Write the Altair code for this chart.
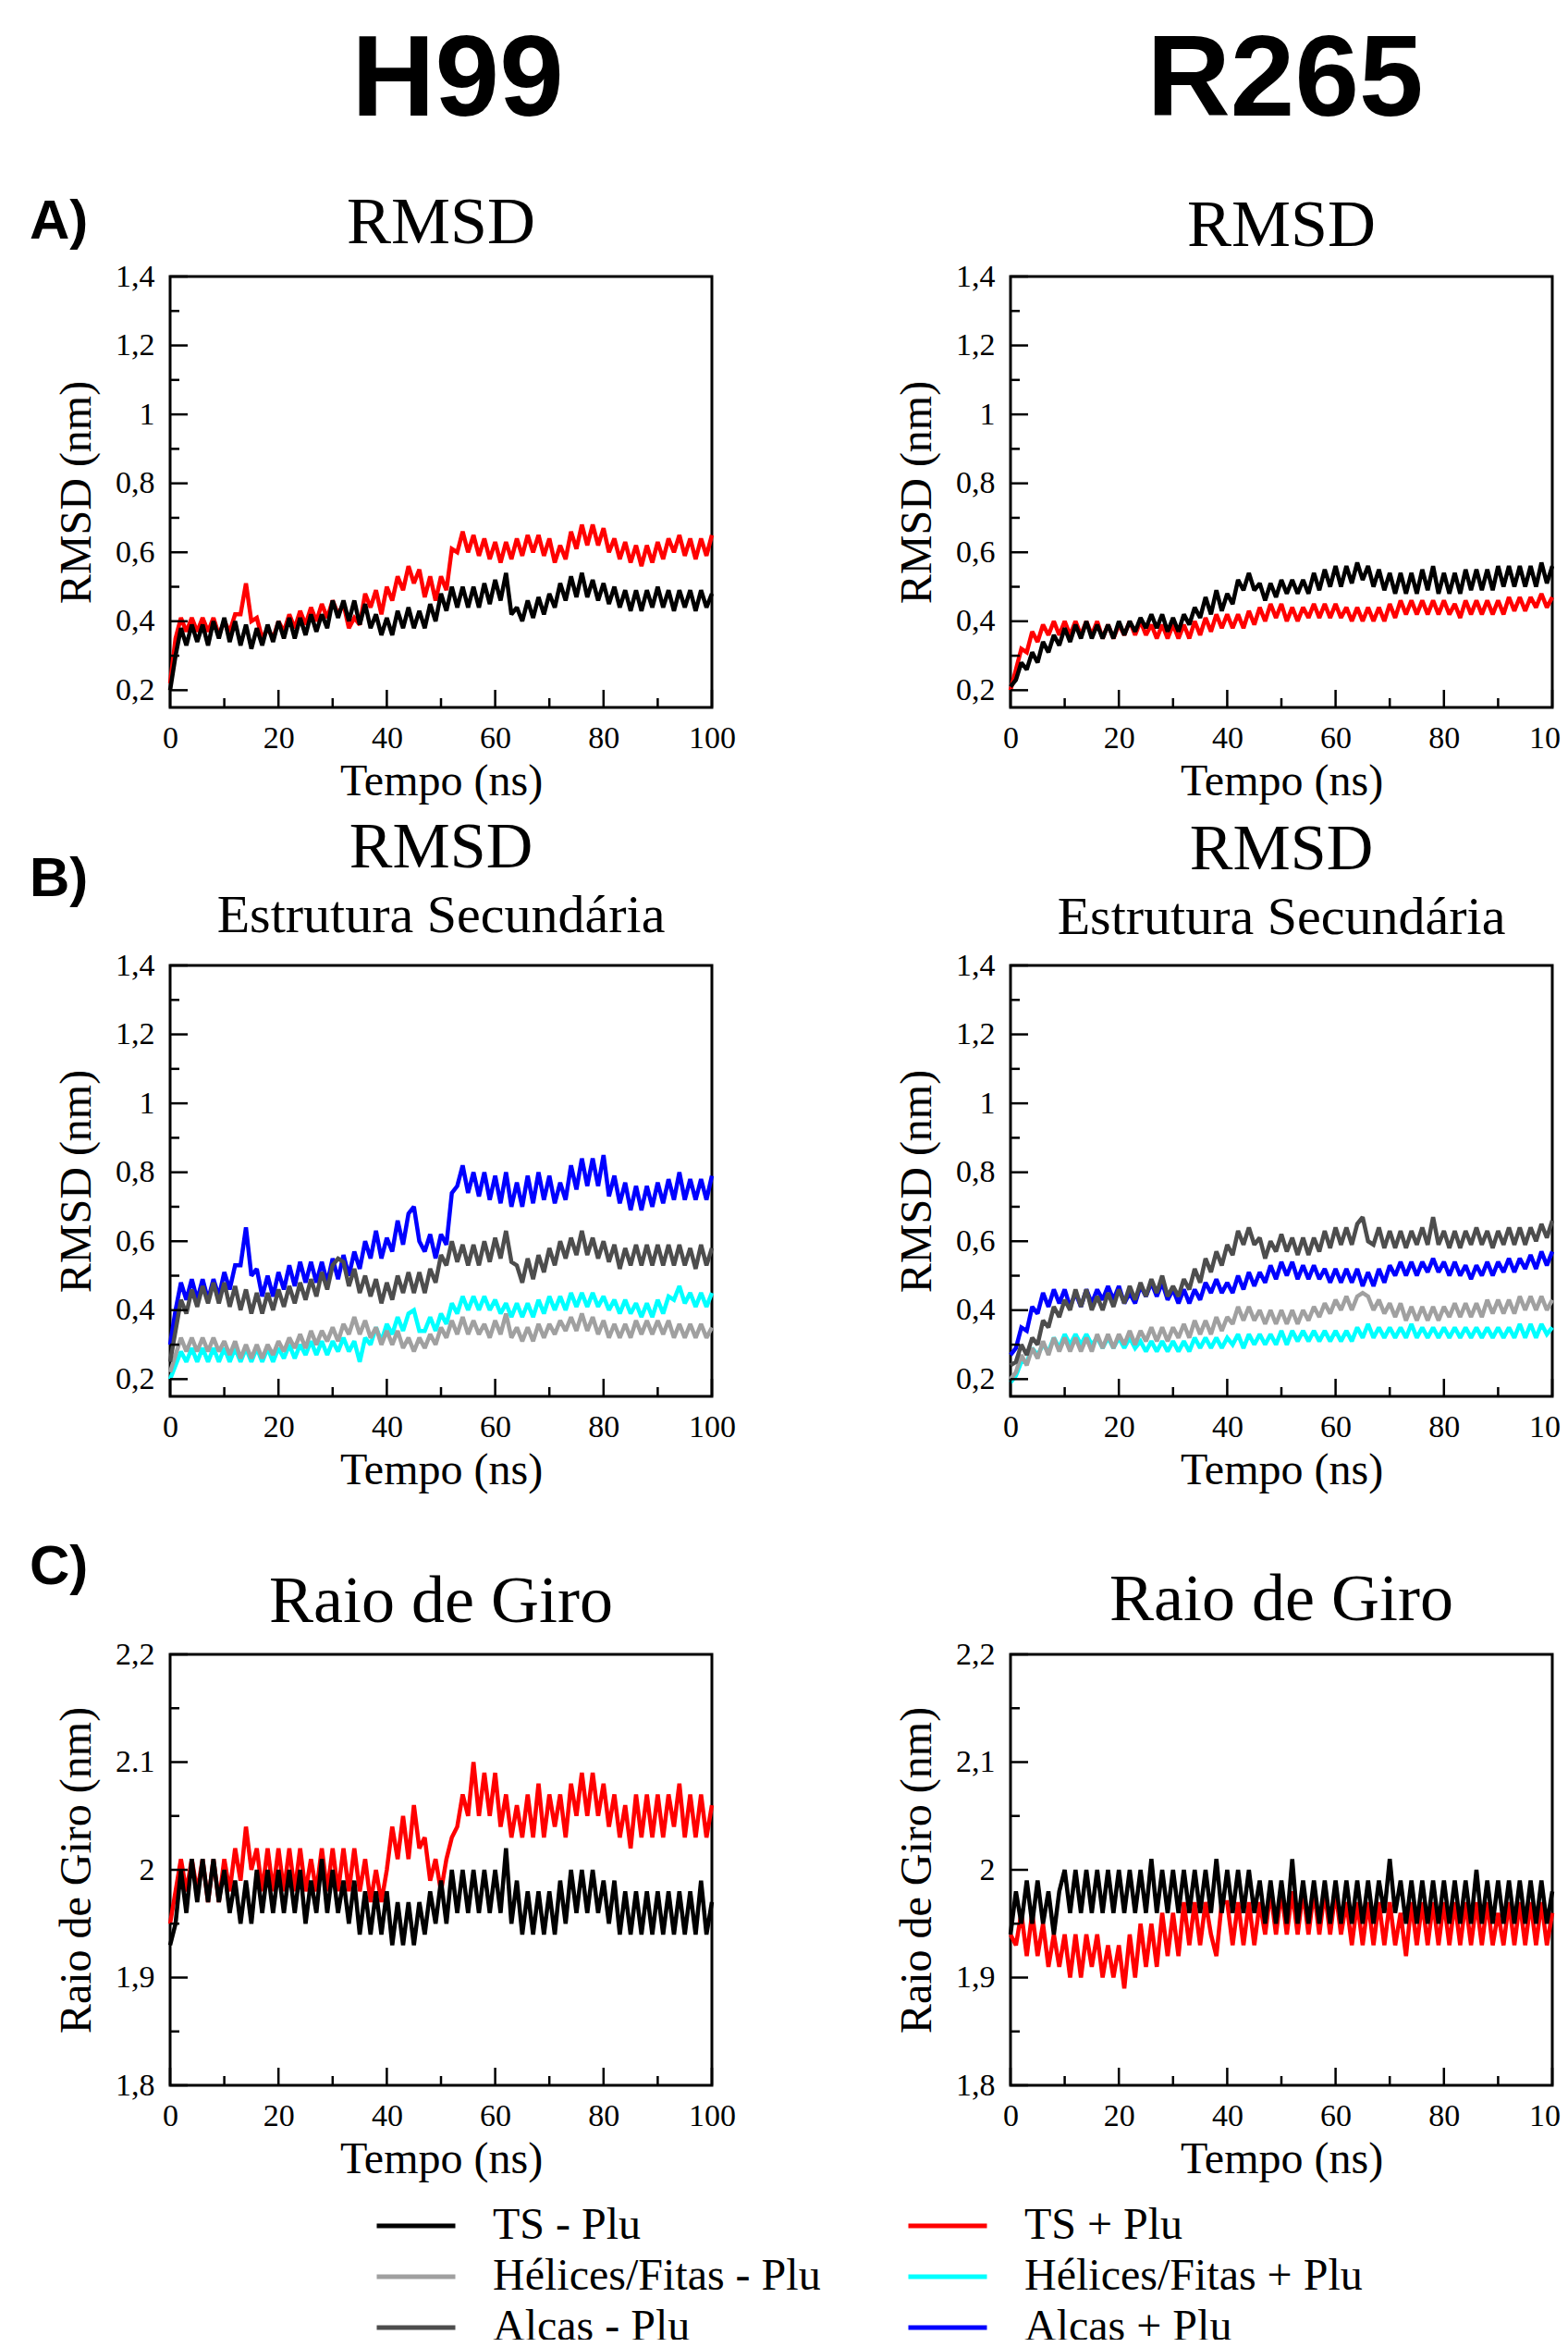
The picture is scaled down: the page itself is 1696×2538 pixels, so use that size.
import altair as alt
import pandas as pd

# ---------------- data (1 ns steps, alternating upper/lower edge of the noisy trace) ----------------
T = list(range(101))

SERIES_NAMES = ["TS - Plu", "TS + Plu", "Hélices/Fitas - Plu", "Hélices/Fitas + Plu", "Alças - Plu", "Alças + Plu"]
SERIES_COLORS = ["#000000", "#ff0000", "#a0a0a0", "#00ffff", "#4d4d4d", "#0000ff"]

X_MAJOR = [0, 20, 40, 60, 80, 100]
X_MINOR = [10, 30, 50, 70, 90]
RMSD_MAJOR = [0.2, 0.4, 0.6, 0.8, 1.0, 1.2, 1.4]
RMSD_MINOR = [0.3, 0.5, 0.7, 0.9, 1.1, 1.3]
RMSD_LABELS = ["0,2", "0,4", "0,6", "0,8", "1", "1,2", "1,4"]
RG_MAJOR = [1.8, 1.9, 2.0, 2.1, 2.2]
RG_MINOR = [1.85, 1.95, 2.05, 2.15]
RG_LABELS_H99 = ["1,8", "1,9", "2", "2.1", "2,2"]
RG_LABELS_R265 = ["1,8", "1,9", "2", "2,1", "2,2"]

# H99 RMSD
h99_rmsd_ts_minus = [0.20,0.30,0.38,0.33,0.39,0.34,0.39,0.33,0.40,0.35,
 0.41,0.34,0.40,0.33,0.39,0.32,0.38,0.33,0.39,0.34,
 0.40,0.35,0.41,0.35,0.41,0.36,0.42,0.37,0.42,0.38,
 0.46,0.41,0.46,0.40,0.46,0.39,0.45,0.38,0.42,0.36,
 0.41,0.36,0.43,0.38,0.44,0.38,0.43,0.38,0.45,0.40,
 0.48,0.43,0.50,0.44,0.50,0.44,0.50,0.44,0.51,0.45,
 0.52,0.46,0.54,0.42,0.44,0.40,0.46,0.41,0.47,0.42,
 0.48,0.44,0.51,0.46,0.53,0.47,0.54,0.47,0.52,0.46,
 0.51,0.45,0.50,0.44,0.49,0.43,0.49,0.43,0.49,0.44,
 0.50,0.44,0.49,0.43,0.49,0.44,0.49,0.43,0.49,0.44,
 0.48]
h99_rmsd_ts_plus = [0.22,0.35,0.41,0.37,0.41,0.37,0.41,0.37,0.41,0.36,
 0.40,0.37,0.42,0.42,0.51,0.40,0.41,0.35,0.38,0.35,
 0.40,0.37,0.42,0.38,0.43,0.39,0.44,0.40,0.45,0.41,
 0.46,0.42,0.45,0.38,0.41,0.39,0.48,0.44,0.49,0.42,
 0.50,0.46,0.53,0.49,0.56,0.51,0.55,0.47,0.53,0.46,
 0.53,0.49,0.61,0.60,0.66,0.60,0.65,0.59,0.64,0.58,
 0.63,0.57,0.63,0.58,0.64,0.59,0.65,0.60,0.65,0.59,
 0.64,0.57,0.62,0.58,0.66,0.61,0.68,0.62,0.68,0.62,
 0.67,0.60,0.64,0.58,0.63,0.57,0.62,0.56,0.62,0.57,
 0.63,0.58,0.64,0.60,0.65,0.59,0.64,0.58,0.64,0.59,
 0.65]

# R265 RMSD
r265_rmsd_ts_minus = [0.21,0.23,0.28,0.26,0.31,0.28,0.34,0.31,0.36,0.33,
 0.38,0.34,0.39,0.35,0.40,0.35,0.39,0.35,0.39,0.35,
 0.40,0.36,0.40,0.37,0.41,0.38,0.42,0.38,0.42,0.37,
 0.41,0.37,0.42,0.39,0.44,0.41,0.47,0.42,0.49,0.43,
 0.48,0.45,0.52,0.49,0.54,0.49,0.51,0.46,0.51,0.47,
 0.52,0.48,0.52,0.48,0.52,0.48,0.54,0.49,0.55,0.50,
 0.56,0.50,0.56,0.51,0.57,0.52,0.56,0.50,0.55,0.49,
 0.54,0.48,0.54,0.48,0.54,0.48,0.55,0.49,0.56,0.48,
 0.54,0.48,0.54,0.48,0.55,0.49,0.55,0.49,0.55,0.49,
 0.56,0.50,0.56,0.50,0.56,0.50,0.56,0.50,0.57,0.51,
 0.56]
r265_rmsd_ts_plus = [0.20,0.26,0.32,0.31,0.37,0.34,0.39,0.36,0.40,0.36,
 0.40,0.36,0.40,0.36,0.40,0.36,0.40,0.35,0.39,0.35,
 0.39,0.36,0.40,0.36,0.40,0.36,0.39,0.35,0.39,0.35,
 0.39,0.35,0.39,0.35,0.40,0.36,0.41,0.37,0.42,0.38,
 0.42,0.38,0.42,0.38,0.43,0.39,0.44,0.40,0.45,0.41,
 0.45,0.40,0.44,0.40,0.44,0.41,0.45,0.41,0.45,0.41,
 0.45,0.41,0.44,0.40,0.44,0.40,0.44,0.40,0.44,0.40,
 0.45,0.41,0.46,0.42,0.46,0.42,0.46,0.42,0.46,0.42,
 0.46,0.42,0.45,0.41,0.46,0.42,0.46,0.42,0.46,0.42,
 0.46,0.42,0.47,0.43,0.47,0.43,0.47,0.44,0.48,0.44,
 0.47]

# H99 RMSD secondary structure
h99_loops_plus = [0.30,0.40,0.48,0.43,0.49,0.43,0.49,0.43,0.49,0.44,
 0.51,0.46,0.53,0.53,0.64,0.50,0.52,0.44,0.50,0.44,
 0.51,0.46,0.53,0.47,0.54,0.48,0.54,0.48,0.54,0.48,
 0.55,0.49,0.56,0.50,0.57,0.52,0.60,0.55,0.63,0.55,
 0.61,0.57,0.66,0.59,0.68,0.70,0.60,0.57,0.62,0.55,
 0.62,0.59,0.74,0.76,0.82,0.74,0.80,0.73,0.80,0.72,
 0.79,0.71,0.80,0.70,0.77,0.70,0.79,0.71,0.80,0.72,
 0.79,0.71,0.77,0.72,0.82,0.75,0.84,0.76,0.84,0.76,
 0.85,0.73,0.79,0.71,0.77,0.69,0.76,0.69,0.76,0.70,
 0.77,0.71,0.78,0.72,0.80,0.72,0.78,0.72,0.78,0.72,
 0.79]
h99_loops_minus = [0.25,0.34,0.43,0.39,0.46,0.41,0.47,0.42,0.48,0.42,
 0.48,0.41,0.47,0.40,0.46,0.39,0.45,0.39,0.45,0.40,
 0.46,0.41,0.47,0.42,0.48,0.43,0.49,0.44,0.51,0.46,
 0.53,0.55,0.54,0.47,0.52,0.45,0.50,0.44,0.49,0.42,
 0.48,0.43,0.50,0.45,0.51,0.45,0.51,0.45,0.52,0.48,
 0.56,0.53,0.60,0.54,0.59,0.53,0.59,0.53,0.60,0.54,
 0.61,0.55,0.63,0.54,0.53,0.48,0.55,0.49,0.56,0.51,
 0.58,0.53,0.60,0.55,0.61,0.56,0.63,0.56,0.61,0.55,
 0.60,0.54,0.59,0.52,0.58,0.53,0.59,0.53,0.59,0.53,
 0.59,0.53,0.59,0.53,0.59,0.53,0.58,0.52,0.59,0.53,
 0.58]
h99_helix_plus = [0.20,0.24,0.28,0.25,0.29,0.25,0.29,0.25,0.29,0.25,
 0.29,0.25,0.29,0.25,0.29,0.25,0.29,0.25,0.29,0.25,
 0.29,0.26,0.30,0.26,0.30,0.27,0.31,0.27,0.31,0.27,
 0.31,0.28,0.32,0.28,0.31,0.25,0.32,0.30,0.35,0.31,
 0.36,0.33,0.38,0.34,0.39,0.40,0.34,0.34,0.38,0.34,
 0.39,0.36,0.42,0.39,0.44,0.40,0.44,0.40,0.44,0.40,
 0.43,0.39,0.42,0.38,0.42,0.38,0.42,0.38,0.43,0.39,
 0.44,0.40,0.44,0.40,0.45,0.41,0.45,0.41,0.45,0.41,
 0.44,0.40,0.43,0.39,0.43,0.39,0.42,0.38,0.42,0.38,
 0.43,0.39,0.44,0.43,0.47,0.42,0.45,0.41,0.45,0.41,
 0.45]
h99_helix_minus = [0.22,0.27,0.32,0.28,0.32,0.28,0.32,0.28,0.32,0.28,
 0.31,0.27,0.31,0.26,0.30,0.26,0.30,0.26,0.30,0.27,
 0.31,0.28,0.32,0.29,0.33,0.29,0.34,0.30,0.34,0.31,
 0.35,0.31,0.36,0.33,0.38,0.33,0.37,0.32,0.35,0.30,
 0.34,0.30,0.34,0.29,0.32,0.28,0.32,0.29,0.33,0.30,
 0.35,0.32,0.37,0.33,0.38,0.33,0.37,0.33,0.36,0.32,
 0.37,0.33,0.39,0.32,0.35,0.31,0.35,0.31,0.36,0.32,
 0.36,0.33,0.37,0.34,0.38,0.34,0.39,0.34,0.38,0.33,
 0.37,0.32,0.36,0.32,0.36,0.32,0.37,0.33,0.37,0.33,
 0.37,0.33,0.37,0.32,0.36,0.32,0.36,0.32,0.36,0.32,
 0.35]

# R265 RMSD secondary structure
r265_loops_minus = [0.24,0.25,0.30,0.27,0.32,0.30,0.37,0.35,0.41,0.38,
 0.43,0.40,0.46,0.41,0.46,0.40,0.44,0.40,0.45,0.41,
 0.46,0.42,0.47,0.43,0.48,0.44,0.49,0.45,0.50,0.44,
 0.47,0.44,0.49,0.46,0.52,0.48,0.55,0.51,0.57,0.53,
 0.59,0.56,0.63,0.59,0.64,0.59,0.61,0.55,0.60,0.57,
 0.62,0.57,0.61,0.56,0.61,0.56,0.61,0.57,0.63,0.58,
 0.64,0.59,0.64,0.59,0.65,0.67,0.60,0.59,0.64,0.58,
 0.63,0.58,0.63,0.58,0.63,0.59,0.64,0.59,0.67,0.59,
 0.63,0.58,0.63,0.58,0.63,0.59,0.64,0.59,0.63,0.58,
 0.63,0.59,0.64,0.59,0.64,0.59,0.64,0.60,0.65,0.61,
 0.66]
r265_loops_plus = [0.27,0.29,0.35,0.34,0.41,0.39,0.45,0.41,0.46,0.42,
 0.46,0.41,0.45,0.41,0.46,0.42,0.46,0.43,0.47,0.43,
 0.47,0.42,0.45,0.42,0.47,0.44,0.48,0.44,0.48,0.43,
 0.46,0.42,0.46,0.42,0.46,0.43,0.48,0.45,0.49,0.45,
 0.48,0.45,0.50,0.46,0.51,0.47,0.51,0.48,0.53,0.49,
 0.54,0.50,0.54,0.49,0.53,0.49,0.53,0.49,0.52,0.48,
 0.52,0.48,0.52,0.48,0.52,0.47,0.51,0.47,0.52,0.48,
 0.53,0.50,0.54,0.50,0.54,0.50,0.54,0.51,0.55,0.51,
 0.54,0.50,0.54,0.50,0.53,0.49,0.53,0.50,0.54,0.50,
 0.54,0.51,0.55,0.51,0.55,0.52,0.56,0.52,0.57,0.53,
 0.57]
r265_helix_minus = [0.20,0.22,0.27,0.24,0.29,0.26,0.31,0.27,0.32,0.28,
 0.32,0.28,0.32,0.28,0.32,0.28,0.33,0.29,0.33,0.29,
 0.33,0.30,0.34,0.30,0.34,0.31,0.35,0.31,0.35,0.31,
 0.35,0.32,0.36,0.32,0.37,0.33,0.37,0.33,0.38,0.34,
 0.38,0.36,0.41,0.37,0.41,0.37,0.40,0.36,0.40,0.36,
 0.40,0.36,0.40,0.36,0.40,0.37,0.41,0.38,0.42,0.39,
 0.43,0.40,0.44,0.40,0.44,0.45,0.44,0.40,0.43,0.39,
 0.42,0.38,0.42,0.37,0.41,0.37,0.41,0.37,0.41,0.37,
 0.41,0.38,0.42,0.38,0.42,0.38,0.42,0.38,0.43,0.39,
 0.43,0.39,0.43,0.39,0.44,0.40,0.44,0.40,0.44,0.40,
 0.43]
r265_helix_plus = [0.19,0.21,0.25,0.25,0.29,0.27,0.30,0.28,0.32,0.29,
 0.33,0.30,0.33,0.30,0.33,0.30,0.32,0.29,0.32,0.29,
 0.32,0.29,0.32,0.29,0.31,0.28,0.31,0.28,0.31,0.28,
 0.31,0.28,0.31,0.28,0.32,0.29,0.32,0.29,0.32,0.29,
 0.32,0.30,0.33,0.29,0.33,0.30,0.33,0.30,0.33,0.30,
 0.34,0.30,0.34,0.31,0.34,0.31,0.34,0.31,0.34,0.31,
 0.34,0.31,0.34,0.31,0.35,0.32,0.36,0.32,0.35,0.32,
 0.35,0.32,0.35,0.32,0.36,0.32,0.35,0.32,0.35,0.32,
 0.35,0.32,0.35,0.32,0.35,0.32,0.35,0.32,0.35,0.32,
 0.35,0.32,0.35,0.32,0.36,0.32,0.36,0.32,0.36,0.33,
 0.35]

# H99 radius of gyration
h99_rg_ts_minus = [1.93,1.95,2.00,1.96,2.01,1.97,2.01,1.97,2.01,1.97,
 2.00,1.96,1.99,1.95,1.99,1.95,2.00,1.96,2.00,1.96,
 2.00,1.96,2.00,1.96,2.00,1.95,1.99,1.96,2.01,1.96,
 2.00,1.96,1.99,1.95,1.99,1.94,1.98,1.94,1.98,1.94,
 1.98,1.93,1.97,1.93,1.97,1.93,1.97,1.94,1.98,1.95,
 1.99,1.95,2.00,1.96,2.00,1.96,2.00,1.96,2.00,1.96,
 2.00,1.96,2.02,1.95,1.99,1.94,1.98,1.94,1.98,1.94,
 1.98,1.94,1.99,1.95,2.00,1.96,2.00,1.96,2.00,1.96,
 1.99,1.95,1.99,1.94,1.98,1.94,1.98,1.94,1.98,1.94,
 1.98,1.94,1.98,1.94,1.98,1.94,1.98,1.94,1.99,1.94,
 1.97]
h99_rg_ts_plus = [1.95,1.98,2.01,1.98,2.01,1.98,2.01,1.97,2.01,1.97,
 2.01,1.98,2.02,1.99,2.04,2.00,2.02,1.98,2.02,1.98,
 2.02,1.98,2.02,1.98,2.02,1.98,2.01,1.98,2.02,1.98,
 2.02,1.98,2.02,1.98,2.02,1.98,2.01,1.97,2.00,1.97,
 2.00,2.04,2.01,2.05,2.01,2.06,2.02,2.03,1.99,2.01,
 1.98,2.01,2.03,2.04,2.07,2.05,2.10,2.05,2.09,2.05,
 2.09,2.04,2.07,2.03,2.06,2.03,2.07,2.03,2.08,2.03,
 2.07,2.04,2.07,2.03,2.08,2.05,2.09,2.05,2.09,2.05,
 2.08,2.04,2.07,2.03,2.06,2.02,2.07,2.03,2.07,2.03,
 2.07,2.03,2.07,2.04,2.08,2.03,2.07,2.03,2.07,2.03,
 2.06]

# R265 radius of gyration
r265_rg_ts_minus = [1.94,1.98,1.95,1.99,1.95,1.99,1.95,1.98,1.94,1.98,
 2.00,1.96,2.00,1.96,2.00,1.96,2.00,1.96,2.00,1.96,
 2.00,1.96,2.00,1.96,2.00,1.96,2.01,1.96,2.00,1.96,
 2.00,1.96,2.00,1.96,2.00,1.96,2.00,1.96,2.01,1.96,
 2.00,1.96,2.00,1.96,2.00,1.96,1.99,1.95,1.99,1.95,
 1.99,1.95,2.01,1.95,1.99,1.95,1.99,1.95,1.99,1.95,
 1.99,1.95,1.99,1.95,1.99,1.95,1.99,1.95,1.99,1.96,
 2.01,1.96,1.99,1.95,1.99,1.95,1.99,1.95,1.99,1.95,
 1.99,1.95,1.99,1.95,1.99,1.95,2.00,1.95,1.99,1.95,
 1.99,1.95,1.99,1.95,1.99,1.95,1.99,1.95,1.99,1.95,
 1.98]
r265_rg_ts_plus = [1.94,1.93,1.96,1.92,1.96,1.92,1.95,1.91,1.94,1.91,
 1.94,1.90,1.94,1.90,1.94,1.91,1.94,1.90,1.93,1.90,
 1.93,1.89,1.94,1.90,1.95,1.91,1.95,1.91,1.96,1.92,
 1.96,1.92,1.97,1.93,1.97,1.93,1.97,1.94,1.92,1.97,
 1.97,1.93,1.97,1.93,1.97,1.93,1.97,1.94,1.98,1.94,
 1.98,1.94,1.98,1.94,1.98,1.94,1.98,1.94,1.98,1.94,
 1.98,1.94,1.97,1.93,1.97,1.93,1.97,1.93,1.97,1.93,
 1.97,1.93,1.96,1.92,1.97,1.93,1.97,1.93,1.97,1.93,
 1.97,1.93,1.97,1.93,1.97,1.93,1.97,1.93,1.97,1.93,
 1.96,1.93,1.97,1.93,1.97,1.93,1.97,1.93,1.97,1.93,
 1.96]

# ---------------- styling ----------------
W, H = 586, 466
SERIF = "Liberation Serif"
SANS = "Liberation Sans"
LINE_W = 4.5
color_scale = alt.Scale(domain=SERIES_NAMES, range=SERIES_COLORS)


def label_expr(vals, labs):
    parts = [f"abs(datum.value - {v}) < 1e-6 ? '{l}'" for v, l in zip(vals, labs)]
    return " : ".join(parts) + " : ''"


def text_layer(txt, x, y, size, font=SERIF, weight="normal", align="center"):
    return alt.Chart(pd.DataFrame({"label": [txt]})).mark_text(
        font=font, fontSize=size, fontWeight=weight, align=align,
        baseline="alphabetic", color="black"
    ).encode(x=alt.value(x), y=alt.value(y), text="label:N")


def panel(series, ydomain, ymajor, yminor, ylabels, ytitle, annotations):
    xs = alt.Scale(domain=[0, 100], nice=False, zero=False)
    ys = alt.Scale(domain=ydomain, nice=False, zero=False)
    xax = alt.Axis(values=X_MAJOR, ticks=False, tickSize=0, domain=False, grid=False,
                   labelFont=SERIF, labelFontSize=34, labelColor="black", labelPadding=16,
                   labelFlush=False, labelOverlap=False, format="d",
                   title="Tempo (ns)", titleFont=SERIF, titleFontSize=48,
                   titleFontWeight="normal", titleColor="black",
                   titleX=W / 2, titleY=94, titleBaseline="alphabetic", titleAlign="center")
    yax = alt.Axis(values=ymajor, labelExpr=label_expr(ymajor, ylabels), ticks=False, tickSize=0,
                   domain=False, grid=False, labelFont=SERIF, labelFontSize=34,
                   labelColor="black", labelPadding=17, labelOverlap=False,
                   title=ytitle, titleFont=SERIF, titleFontSize=48, titleFontWeight="normal",
                   titleColor="black", titleX=-87, titleY=H / 2, titleAngle=270,
                   titleBaseline="alphabetic", titleAlign="center")
    layers = []
    for name, vals in series:
        df = pd.DataFrame({"t": T, "value": vals, "series": name})
        layers.append(
            alt.Chart(df).mark_line(strokeWidth=LINE_W, strokeJoin="miter", strokeMiterLimit=2).encode(
                x=alt.X("t:Q", scale=xs, axis=xax),
                y=alt.Y("value:Q", scale=ys, axis=yax),
                color=alt.Color("series:N", scale=color_scale, legend=None),
            )
        )
    # inward ticks
    for vals, ln in ((ymajor, 19), (yminor, 10)):
        layers.append(
            alt.Chart(pd.DataFrame({"value": vals})).mark_rule(color="black", strokeWidth=2.5).encode(
                y=alt.Y("value:Q", scale=ys, axis=yax), x=alt.value(0), x2=alt.value(ln))
        )
    for vals, ln in ((X_MAJOR, 19), (X_MINOR, 10)):
        layers.append(
            alt.Chart(pd.DataFrame({"t": vals})).mark_rule(color="black", strokeWidth=2.5).encode(
                x=alt.X("t:Q", scale=xs, axis=xax), y=alt.value(H), y2=alt.value(H - ln))
        )
    layers.extend(annotations)
    return alt.layer(*layers).properties(width=W, height=H)


rmsd_dom = [0.15, 1.4]
rg_dom = [1.8, 2.2]

A_L = panel([("TS + Plu", h99_rmsd_ts_plus), ("TS - Plu", h99_rmsd_ts_minus)],
            rmsd_dom, RMSD_MAJOR, RMSD_MINOR, RMSD_LABELS, "RMSD (nm)",
            [text_layer("H99", 311, -174, 125, font=SANS, weight="bold"),
             text_layer("A)", -152, -41, 60, font=SANS, weight="bold", align="left"),
             text_layer("RMSD", W / 2, -36, 72)])
A_R = panel([("TS + Plu", r265_rmsd_ts_plus), ("TS - Plu", r265_rmsd_ts_minus)],
            rmsd_dom, RMSD_MAJOR, RMSD_MINOR, RMSD_LABELS, "RMSD (nm)",
            [text_layer("R265", 297, -174, 125, font=SANS, weight="bold"),
             text_layer("RMSD", W / 2, -33, 72)])
B_L = panel([("Hélices/Fitas + Plu", h99_helix_plus), ("Hélices/Fitas - Plu", h99_helix_minus),
             ("Alças + Plu", h99_loops_plus), ("Alças - Plu", h99_loops_minus)],
            rmsd_dom, RMSD_MAJOR, RMSD_MINOR, RMSD_LABELS, "RMSD (nm)",
            [text_layer("B)", -152, -75, 60, font=SANS, weight="bold", align="left"),
             text_layer("RMSD", W / 2, -106, 70),
             text_layer("Estrutura Secundária", W / 2, -36, 58)])
B_R = panel([("Hélices/Fitas + Plu", r265_helix_plus), ("Hélices/Fitas - Plu", r265_helix_minus),
             ("Alças + Plu", r265_loops_plus), ("Alças - Plu", r265_loops_minus)],
            rmsd_dom, RMSD_MAJOR, RMSD_MINOR, RMSD_LABELS, "RMSD (nm)",
            [text_layer("RMSD", W / 2, -104, 70),
             text_layer("Estrutura Secundária", W / 2, -34, 58)])
C_L = panel([("TS + Plu", h99_rg_ts_plus), ("TS - Plu", h99_rg_ts_minus)],
            rg_dom, RG_MAJOR, RG_MINOR, RG_LABELS_H99, "Raio de Giro (nm)",
            [text_layer("C)", -152, -76, 60, font=SANS, weight="bold", align="left"),
             text_layer("Raio de Giro", W / 2, -35, 72)])
C_R = panel([("TS + Plu", r265_rg_ts_plus), ("TS - Plu", r265_rg_ts_minus)],
            rg_dom, RG_MAJOR, RG_MINOR, RG_LABELS_R265, "Raio de Giro (nm)",
            [text_layer("Raio de Giro", W / 2, -37, 72)])

# legend (2 columns x 3 rows)
leg_df = pd.DataFrame({
    "name": SERIES_NAMES,
    "col": [i % 2 for i in range(len(SERIES_NAMES))],
    "row": [i // 2 for i in range(len(SERIES_NAMES))],
})
lx = alt.Scale(domain=[0, 1], range=[266, 841])
ly = alt.Scale(domain=[0, 2], range=[-127, -17])
leg_base = alt.Chart(leg_df).encode(
    x=alt.X("col:Q", scale=lx, axis=None),
    y=alt.Y("row:Q", scale=ly, axis=None),
)
legend = alt.layer(
    leg_base.mark_point(shape="stroke", size=7225, strokeWidth=5, filled=False, opacity=1).encode(
        color=alt.Color("name:N", scale=color_scale, legend=None)),
    leg_base.mark_text(align="left", baseline="middle", dx=83, font=SERIF, fontSize=48,
                       color="black").encode(text="name:N"),
).properties(width=500, height=10, view=alt.ViewBackground(strokeOpacity=0))

# origin of the layout = top-left of the first plot area, placed at page (184, 299)
PAD_L, PAD_T = 176, 291
SVG_W, SVG_H = 1680, 2522

chart = alt.concat(
    A_L, A_R, B_L, B_R, C_L, C_R, legend,
    columns=2, spacing={"row": 279, "column": 323}, bounds="flush",
    autosize=alt.AutoSizeParams(type="none"),
    padding={"left": PAD_L, "top": PAD_T, "right": SVG_W - PAD_L, "bottom": SVG_H - PAD_T},
    background="white",
).configure_view(stroke="black", strokeWidth=3)

chart.save("out.html", embed_options={"renderer": "svg", "actions": False})
